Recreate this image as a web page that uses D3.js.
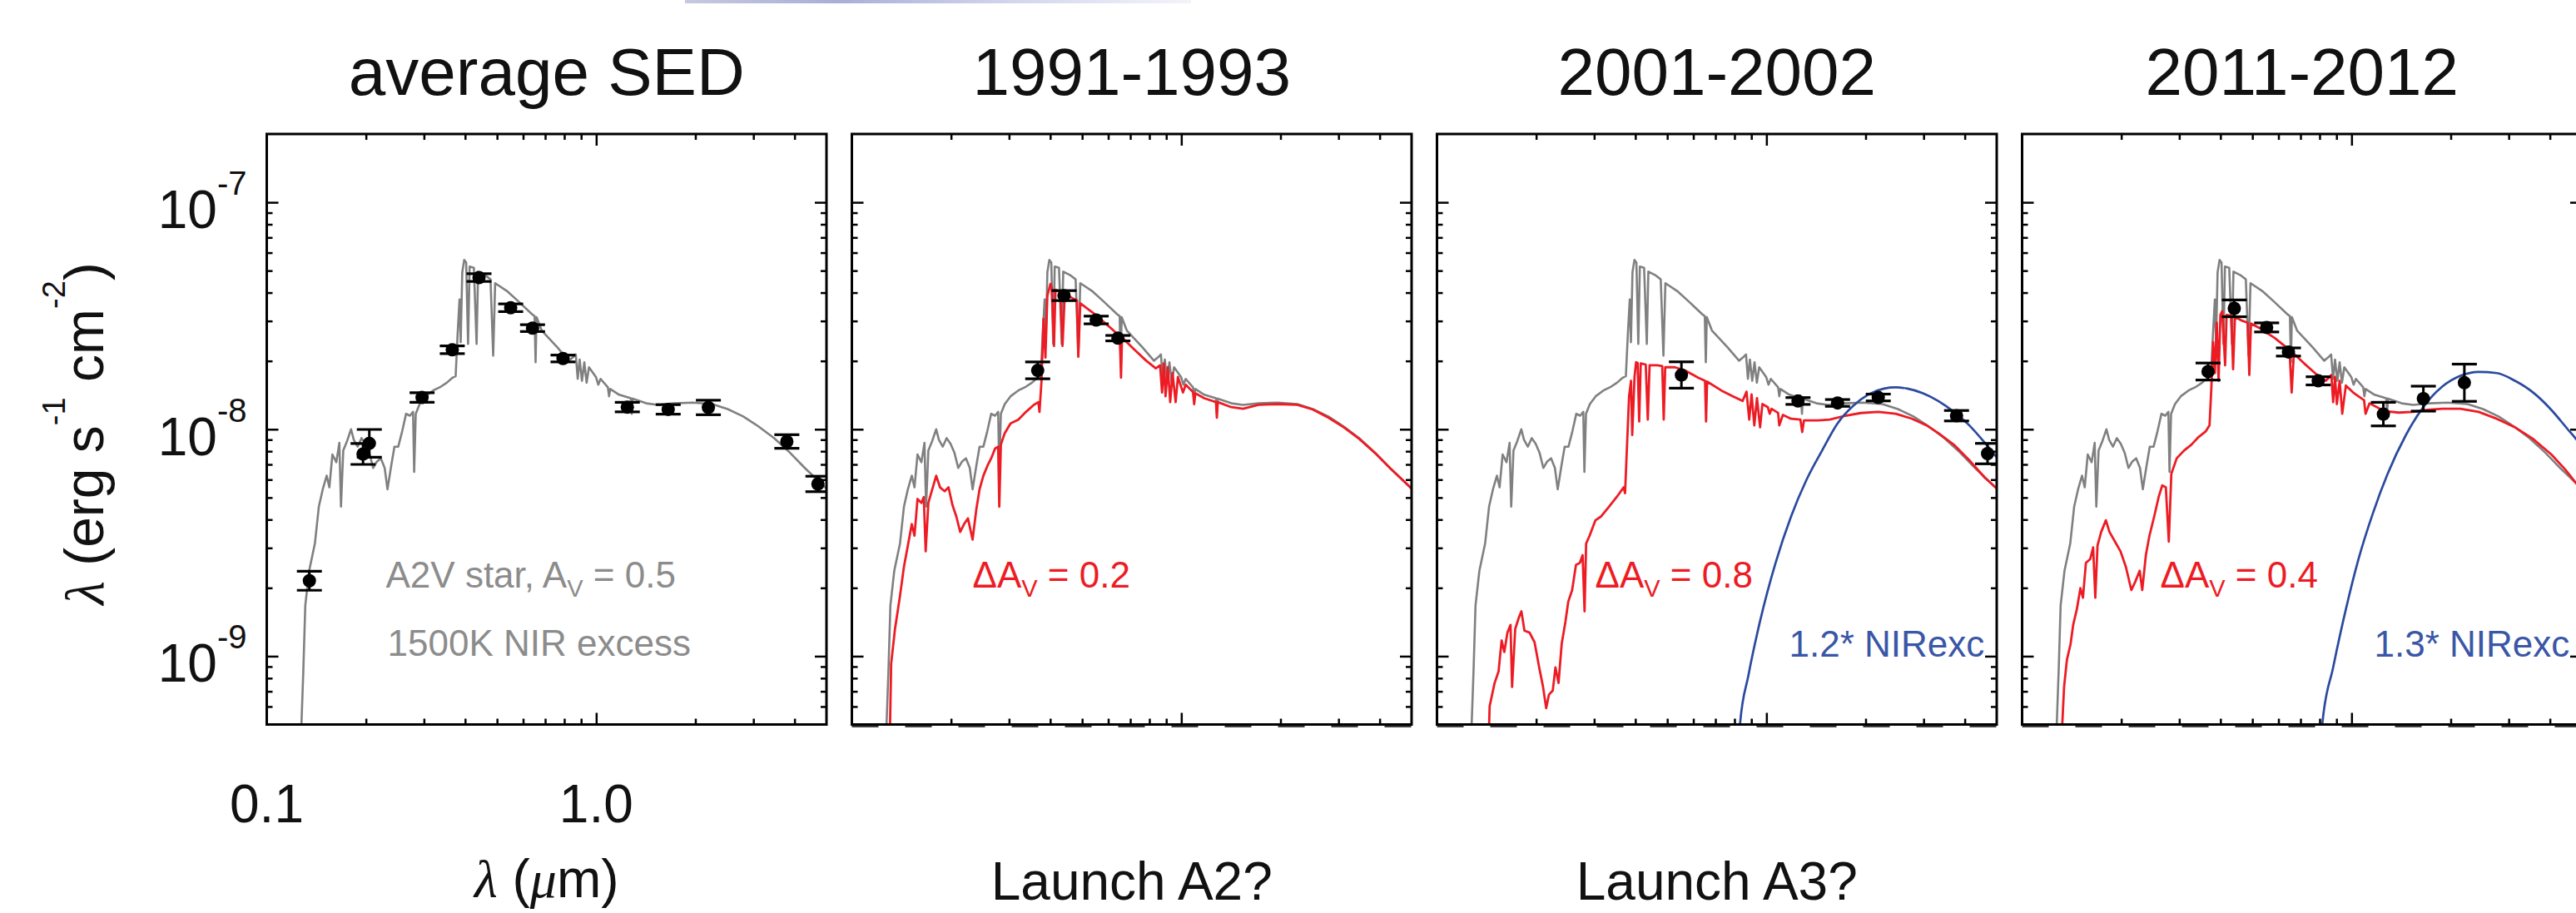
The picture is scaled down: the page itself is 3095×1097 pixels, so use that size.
<!DOCTYPE html>
<html>
<head>
<meta charset="utf-8">
<script src="https://cdn.jsdelivr.net/npm/d3@7"></script>
<style>
  html, body { margin: 0; padding: 0; background: #ffffff; }
  svg { display: block; }
  text { font-family: "Liberation Sans", Arial, Helvetica, sans-serif; }
</style>
</head>
<body>
<svg id="chart" width="3095" height="1097"></svg>
<script>
// ---------------------------------------------------------------
// Data: wavelengths in micron, fluxes (lambda F_lambda) in units
// of 1e-8 erg s^-1 cm^-2, photometric errors as +/- dex.
// ---------------------------------------------------------------
const FLUX_UNIT = 1e-8;

const panelTitles = ["average SED", "1991-1993", "2001-2002", "2011-2012"];
const panelFootnotes = ["", "Launch A2?", "Launch A3?", ""];

// A2V model (A_V = 0.5) plus 1500 K near-infrared excess
const modelWave = [0.1262, 0.1274, 0.1291, 0.1309, 0.1345, 0.1400, 0.1439, 0.1479, 0.1520, 0.1549,
  0.1582, 0.1626, 0.1661, 0.1680, 0.1707, 0.1754, 0.1803, 0.1837, 0.1887, 0.1939,
  0.1992, 0.2047, 0.2103, 0.2161, 0.2220, 0.2280, 0.2325, 0.2388, 0.2441, 0.2507,
  0.2577, 0.2648, 0.2720, 0.2780, 0.2802, 0.2833, 0.2911, 0.3032, 0.3200, 0.3378,
  0.3518, 0.3664, 0.3744, 0.3796, 0.3847, 0.3879, 0.3921, 0.3975, 0.4030, 0.4084,
  0.4128, 0.4253, 0.4334, 0.4381, 0.4613, 0.4777, 0.4868, 0.4935, 0.5355, 0.5806,
  0.6383, 0.6500, 0.6546, 0.6590, 0.6831, 0.7613, 0.8257, 0.8485, 0.8670, 0.8788,
  0.8908, 0.9054, 0.9203, 0.9352, 0.9506, 0.9980, 1.0144, 1.031, 1.085, 1.094,
  1.103, 1.174, 1.274, 1.282, 1.290, 1.419, 1.539, 1.716, 1.964, 2.249,
  2.506, 2.794, 3.112, 3.469, 3.867, 4.309, 5.028];
const modelFlux = [0.030, 0.0498, 0.0857, 0.1672, 0.238, 0.3136, 0.4557, 0.5436, 0.6239, 0.5546,
  0.7745, 0.7158, 0.871, 0.456, 0.8057, 0.889, 1.0, 0.899, 0.838, 0.9136,
  0.8647, 0.790, 0.675, 0.7215, 0.7447, 0.675, 0.5436, 0.6939, 0.838, 0.838,
  0.9806, 1.170, 1.147, 1.193, 0.649, 1.170, 1.291, 1.397, 1.4817, 1.541,
  1.603, 1.687, 1.714, 2.62, 3.73, 2.42, 4.913, 5.571, 5.42, 2.375,
  5.212, 5.15, 2.375, 4.952, 4.761, 4.577, 2.11, 4.401, 4.069, 3.659,
  3.214, 3.15, 1.973, 3.12, 2.725, 2.301, 2.005, 2.07, 2.136, 1.667,
  2.029, 1.635, 1.973, 1.603, 1.876, 1.70, 1.572, 1.667, 1.53, 1.397,
  1.505, 1.419, 1.370, 1.17, 1.365, 1.301, 1.281, 1.301, 1.311, 1.291,
  1.227, 1.139, 1.028, 0.9136, 0.790, 0.6724, 0.5436];

// Extra-extinction models
const redWave2 = [0.1298, 0.1316, 0.1352, 0.1400, 0.1439, 0.1479, 0.1520, 0.1549, 0.1582, 0.1626,
  0.1653, 0.1675, 0.1707, 0.1754, 0.1803, 0.1852, 0.1913, 0.1965, 0.2019, 0.2075,
  0.2132, 0.2190, 0.2251, 0.2325, 0.2388, 0.2441, 0.2507, 0.2577, 0.2648, 0.2720,
  0.2780, 0.2802, 0.2833, 0.2911, 0.3032, 0.3200, 0.3378, 0.3566, 0.3683, 0.3711,
  0.3764, 0.3816, 0.3868, 0.3921, 0.4008, 0.4041, 0.4107, 0.4150, 0.4288, 0.4359,
  0.4429, 0.4676, 0.4822, 0.4868, 0.4935, 0.5498, 0.6131, 0.6506, 0.6561, 0.6607,
  0.7211, 0.7823, 0.8370, 0.8620, 0.8740, 0.8848, 0.8956, 0.9103, 0.9252, 0.9404,
  0.9610, 0.9767, 1.0117, 1.031, 1.085, 1.094, 1.103, 1.174, 1.274, 1.282,
  1.290, 1.419, 1.539, 1.716, 1.964, 2.249, 2.506, 2.794, 3.112, 3.469,
  3.867, 4.309, 5.028];
const redFlux2 = [0.030, 0.0927, 0.1321, 0.1845, 0.2477, 0.3075, 0.3818, 0.3393, 0.4929, 0.4738,
  0.5027, 0.290, 0.4738, 0.5436, 0.6239, 0.5546, 0.533, 0.5546, 0.4646, 0.4129,
  0.3528, 0.3818, 0.4048, 0.3263, 0.4467, 0.5436, 0.6239, 0.6886, 0.7447, 0.8216,
  0.838, 0.4557, 0.8546, 0.9614, 1.061, 1.103, 1.193, 1.281, 1.317, 1.193,
  1.635, 3.065, 2.07, 3.881, 4.366, 4.199, 2.328, 4.117, 4.036, 2.328,
  3.958, 3.776, 3.703, 2.086, 3.587, 3.189, 2.779, 2.569, 1.687, 2.539,
  2.239, 2.005, 1.854, 1.913, 1.452, 1.951, 1.397, 1.876, 1.317, 1.768,
  1.317, 1.70, 1.452, 1.572, 1.46, 1.291, 1.44, 1.370, 1.317, 1.125,
  1.317, 1.251, 1.231, 1.281, 1.291, 1.281, 1.222, 1.125, 1.02, 0.906,
  0.787, 0.6724, 0.5436];

const redWave3 = [0.1425, 0.1445, 0.1496, 0.1538, 0.1571, 0.1601, 0.1636, 0.1672, 0.1690, 0.1728,
  0.1774, 0.1804, 0.1843, 0.1910, 0.1978, 0.2043, 0.2099, 0.2145, 0.2187, 0.2246,
  0.2289, 0.2339, 0.2390, 0.2456, 0.2503, 0.2572, 0.2642, 0.2715, 0.2767, 0.2805,
  0.2836, 0.2905, 0.3027, 0.3150, 0.3327, 0.3511, 0.3686, 0.3723, 0.3777, 0.3829,
  0.3882, 0.3914, 0.3978, 0.4021, 0.4065, 0.4109, 0.4154, 0.4302, 0.4364, 0.4419,
  0.4667, 0.4827, 0.4878, 0.4929, 0.5272, 0.5718, 0.6202, 0.6511, 0.6557, 0.6606,
  0.7296, 0.7913, 0.8468, 0.8700, 0.8867, 0.9013, 0.9187, 0.9361, 0.9566, 0.9723,
  1.0097, 1.023, 1.036, 1.085, 1.094, 1.122, 1.188, 1.268, 1.284, 1.300,
  1.436, 1.557, 1.735, 1.934, 2.185, 2.468, 2.751, 3.065, 3.325, 3.706,
  4.129, 4.602, 5.032];
const redFlux3 = [0.030, 0.0602, 0.0762, 0.0857, 0.1173, 0.1043, 0.1270, 0.1373, 0.0732, 0.1321,
  0.1486, 0.1576, 0.1295, 0.1270, 0.1151, 0.0892, 0.0732, 0.059, 0.0677, 0.0705,
  0.0892, 0.0762, 0.1129, 0.1429, 0.1739, 0.1956, 0.2527, 0.2577, 0.2788, 0.1576,
  0.3136, 0.3393, 0.3971, 0.4129, 0.4557, 0.5027, 0.5546, 0.5228, 0.871, 1.397,
  1.635, 0.9427, 1.70, 1.973, 1.96, 1.082, 1.951, 1.928, 1.103, 1.913,
  1.913, 1.898, 1.103, 1.876, 1.876, 1.803, 1.687, 1.635, 1.082, 1.622,
  1.4817, 1.397, 1.332, 1.464, 1.103, 1.424, 1.040, 1.370, 1.02, 1.291,
  1.251, 1.170, 1.231, 1.18, 1.04, 1.157, 1.112, 1.103, 0.9729, 1.094,
  1.094, 1.103, 1.147, 1.179, 1.193, 1.17, 1.116, 1.04, 0.9614, 0.8546,
  0.730, 0.6117, 0.5436];

const redWave4 = [0.1315, 0.1324, 0.1341, 0.1368, 0.1403, 0.1429, 0.1466, 0.1503, 0.1530, 0.1562,
  0.1610, 0.1643, 0.1668, 0.1694, 0.1738, 0.1796, 0.1842, 0.1914, 0.1989, 0.2065,
  0.2146, 0.2202, 0.2275, 0.2316, 0.2375, 0.2435, 0.2518, 0.2597, 0.2663, 0.2731,
  0.2788, 0.2838, 0.2947, 0.3101, 0.3263, 0.3434, 0.3613, 0.3706, 0.3753, 0.3801,
  0.3849, 0.3898, 0.3948, 0.3999, 0.4050, 0.4133, 0.4175, 0.4316, 0.4370, 0.4427,
  0.4657, 0.4838, 0.4894, 0.4951, 0.5290, 0.5857, 0.6481, 0.6580, 0.6681, 0.7177,
  0.7745, 0.8357, 0.8682, 0.8794, 0.8908, 0.9023, 0.9204, 0.9370, 0.9610, 1.011,
  1.0914, 1.103, 1.134, 1.255, 1.3897, 1.538, 1.702, 1.885, 2.140, 2.430,
  2.760, 3.134, 3.557, 4.040, 4.464, 4.810, 5.030];
const redFlux4 = [0.030, 0.0498, 0.0732, 0.0965, 0.1129, 0.1373, 0.1608, 0.1995, 0.1809, 0.2577,
  0.268, 0.3015, 0.1809, 0.3075, 0.3528, 0.3971, 0.3528, 0.3198, 0.290, 0.2477,
  0.1956, 0.2117, 0.238, 0.1956, 0.2788, 0.3393, 0.4129, 0.5027, 0.5655, 0.5546,
  0.3198, 0.6362, 0.7447, 0.8057, 0.8546, 0.9244, 0.9806, 1.040, 1.511, 2.42,
  1.768, 2.947, 1.635, 3.189, 3.317, 1.913, 3.189, 3.164, 1.839, 3.126,
  3.006, 2.947, 1.734, 2.924, 2.779, 2.518, 2.239, 1.452, 2.152, 1.951,
  1.768, 1.635, 1.734, 1.317, 1.70, 1.291, 1.635, 1.17, 1.559, 1.452,
  1.343, 1.17, 1.301, 1.203, 1.184, 1.193, 1.217, 1.231, 1.231, 1.193,
  1.112, 1.02, 0.906, 0.7745, 0.6618, 0.5767, 0.540];

// Scaled 1500 K near-infrared excess
const nirWave3 = [0.822, 0.831, 0.8819, 0.9566, 1.066, 1.188, 1.324, 1.4755, 1.644, 1.832,
  2.042, 2.276, 2.468, 2.677, 2.984, 3.325, 3.706, 4.129, 4.602, 5.032];
const nirFlux3 = [0.030, 0.0498, 0.0824, 0.1429, 0.2577, 0.4129, 0.5999, 0.8057, 1.061, 1.266,
  1.424, 1.511, 1.529, 1.511, 1.441, 1.332, 1.193, 1.040, 0.8714, 0.7447];
const nirWave4 = [0.807, 0.8147, 0.8793, 0.961, 1.05, 1.163, 1.287, 1.462, 1.66, 1.885,
  2.14, 2.43, 2.76, 3.134, 3.557, 4.04, 4.53, 4.80, 5.03];
const nirFlux4 = [0.030, 0.0498, 0.0892, 0.1608, 0.268, 0.4295, 0.6362, 0.9427, 1.266, 1.541,
  1.72, 1.789, 1.768, 1.635, 1.452, 1.217, 1.0, 0.906, 0.83];

// Photometry per epoch
const obsWave1 = [0.1347, 0.196, 0.2048, 0.2961, 0.3657, 0.4408, 0.550, 0.6408, 0.793, 1.243, 1.654, 2.19, 3.79, 4.71];
const obsFlux1 = [0.215, 0.778, 0.867, 1.38, 2.24, 4.66, 3.43, 2.79, 2.05, 1.252, 1.223, 1.247, 0.883, 0.574];
const obsErr1  = [0.042, 0.046, 0.061, 0.021, 0.017, 0.017, 0.017, 0.015, 0.015, 0.021, 0.021, 0.032, 0.030, 0.034];

const obsWave2 = [0.3665, 0.4406, 0.5516, 0.642];
const obsFlux2 = [1.817, 3.88, 3.03, 2.52];
const obsErr2  = [0.037, 0.022, 0.017, 0.012];

const obsWave3 = [0.552, 1.247, 1.644, 2.185, 3.776, 4.69];
const obsFlux3 = [1.734, 1.332, 1.306, 1.38, 1.147, 0.781];
const obsErr3  = [0.058, 0.015, 0.015, 0.015, 0.023, 0.045];

const obsWave4 = [0.3668, 0.4406, 0.5524, 0.6434, 0.7923, 1.249, 1.652, 2.2];
const obsFlux4 = [1.796, 3.41, 2.81, 2.19, 1.634, 1.166, 1.364, 1.603];
const obsErr4  = [0.0375, 0.037, 0.020, 0.018, 0.018, 0.052, 0.055, 0.082];

// Axis ticks and labels
const xDomain = [0.1, 5];
const yDomain = [5e-10, 2e-7];
const xMajorTicks = [1];
const xMinorTicks = [0.2, 0.3, 0.4, 0.5, 0.6, 0.7, 0.8, 0.9, 2, 3, 4];
const yMajorTicks = [1e-9, 1e-8, 1e-7];
const yMinorTicks = [6e-10, 7e-10, 8e-10, 9e-10,
  2e-9, 3e-9, 4e-9, 5e-9, 6e-9, 7e-9, 8e-9, 9e-9,
  2e-8, 3e-8, 4e-8, 5e-8, 6e-8, 7e-8, 8e-8, 9e-8];
const xLabelValues = [0.1, 1.0];
const xLabelTexts = ["0.1", "1.0"];
const yLabelValues = [1e-7, 1e-8, 1e-9];
const yLabelExponents = ["-7", "-8", "-9"];

// ---------------------------------------------------------------
// Layout and styling
// ---------------------------------------------------------------
const panelLeft0 = 320.5, panelStep = 703, panelW = 672.5;
const panelTop = 161, panelBottom = 870.5;
const COLORS = { model: "#808080", modelText: "#8c8c8c", red: "#ed1c24", blue: "#2b4a9e", blueText: "#3a56a6" };

const zip = (a, b) => a.map((v, i) => [v, b[i]]);

const panels = [
  { red: null, nir: null, obs: [obsWave1, obsFlux1, obsErr1],
    notes: [
      { x: 143, y: 706, color: COLORS.modelText, size: 44, parts: [{ t: "A2V star, A" }, { t: "V", sub: true }, { t: " = 0.5" }] },
      { x: 145, y: 788, color: COLORS.modelText, size: 44, parts: [{ t: "1500K NIR excess" }] }
    ] },
  { red: zip(redWave2, redFlux2), nir: null, obs: [obsWave2, obsFlux2, obsErr2],
    notes: [
      { x: 145, y: 706, color: COLORS.red, size: 44, parts: [{ t: "\u0394A" }, { t: "V", sub: true }, { t: " = 0.2" }] }
    ] },
  { red: zip(redWave3, redFlux3), nir: zip(nirWave3, nirFlux3), obs: [obsWave3, obsFlux3, obsErr3],
    notes: [
      { x: 190, y: 706, color: COLORS.red, size: 44, parts: [{ t: "\u0394A" }, { t: "V", sub: true }, { t: " = 0.8" }] },
      { x: 423, y: 789, color: COLORS.blueText, size: 44, parts: [{ t: "1.2* NIRexc" }] }
    ] },
  { red: zip(redWave4, redFlux4), nir: zip(nirWave4, nirFlux4), obs: [obsWave4, obsFlux4, obsErr4],
    notes: [
      { x: 166, y: 706, color: COLORS.red, size: 44, parts: [{ t: "\u0394A" }, { t: "V", sub: true }, { t: " = 0.4" }] },
      { x: 423, y: 789, color: COLORS.blueText, size: 44, parts: [{ t: "1.3* NIRexc" }] }
    ] }
];

const svg = d3.select("#chart");
const defs = svg.append("defs");

// faint strip along the top edge
const strip = defs.append("linearGradient").attr("id", "stripGrad");
strip.append("stop").attr("offset", "0%").attr("stop-color", "#c6c9de");
strip.append("stop").attr("offset", "30%").attr("stop-color", "#a9aed8");
strip.append("stop").attr("offset", "65%").attr("stop-color", "#d3d6ec");
strip.append("stop").attr("offset", "100%").attr("stop-color", "#f3f4fa");
svg.append("rect").attr("x", 823).attr("y", 0).attr("width", 608).attr("height", 4)
  .attr("fill", "url(#stripGrad)");

// rich text helper: parts with optional sub/superscript
function richText(sel, x, y, parts, opts) {
  const t = sel.append("text").attr("x", x).attr("y", y)
    .attr("font-size", opts.size).attr("fill", opts.color || "#000")
    .attr("text-anchor", opts.anchor || "start");
  if (opts.transform) t.attr("transform", opts.transform);
  let shift = 0;
  parts.forEach(p => {
    const s = t.append("tspan").text(p.t);
    let target = 0;
    if (p.sub) { s.attr("font-size", opts.size * 0.66); target = opts.size * 0.26; }
    if (p.sup) { s.attr("font-size", p.supSize || opts.size * 0.62); target = -(p.raise || opts.size * 0.6); }
    if (p.italic) s.attr("font-family", "'Liberation Serif', 'DejaVu Serif', serif").attr("font-style", "italic");
    if (target !== shift) { s.attr("dy", target - shift); shift = target; }
  });
  return t;
}

panels.forEach((p, i) => {
  const left = panelLeft0 + i * panelStep;
  const right = left + panelW;
  const x = d3.scaleLog().domain(xDomain).range([left, right]);
  const y = d3.scaleLog().domain(yDomain).range([panelBottom, panelTop]);
  const g = svg.append("g");

  defs.append("clipPath").attr("id", "clip" + i).append("rect")
    .attr("x", left).attr("y", panelTop).attr("width", panelW).attr("height", panelBottom - panelTop);

  const line = d3.line().x(d => x(d[0])).y(d => y(d[1] * FLUX_UNIT));
  const curves = g.append("g").attr("clip-path", `url(#clip${i})`);

  // dashed level running along the lower frame of the epoch panels
  if (i > 0) {
    g.append("line").attr("x1", left).attr("x2", right)
      .attr("y1", panelBottom + 1).attr("y2", panelBottom + 1)
      .attr("stroke", "#3c3c3c").attr("stroke-width", 5).attr("stroke-dasharray", "32,32");
  }

  curves.append("path").datum(zip(modelWave, modelFlux)).attr("d", line)
    .attr("fill", "none").attr("stroke", COLORS.model).attr("stroke-width", 2.6).attr("stroke-linejoin", "round");
  if (p.red) curves.append("path").datum(p.red).attr("d", line)
    .attr("fill", "none").attr("stroke", COLORS.red).attr("stroke-width", 2.8).attr("stroke-linejoin", "round");
  if (p.nir) curves.append("path").datum(p.nir).attr("d", line.curve(d3.curveMonotoneX))
    .attr("fill", "none").attr("stroke", COLORS.blue).attr("stroke-width", 2.7);

  // photometry with error bars
  const [ow, of, oe] = p.obs;
  const obs = ow.map((w, k) => ({ w, f: of[k] * FLUX_UNIT, e: oe[k] }));
  const pts = g.append("g").attr("clip-path", `url(#clip${i})`);
  obs.forEach(d => {
    const cx = x(d.w);
    const yLo = y(d.f * Math.pow(10, -d.e)), yHi = y(d.f * Math.pow(10, d.e));
    pts.append("line").attr("x1", cx).attr("x2", cx).attr("y1", yLo).attr("y2", yHi)
      .attr("stroke", "#000").attr("stroke-width", 3);
    [yLo, yHi].forEach(yy => pts.append("line").attr("x1", cx - 15).attr("x2", cx + 15)
      .attr("y1", yy).attr("y2", yy).attr("stroke", "#000").attr("stroke-width", 3.2));
    pts.append("circle").attr("cx", cx).attr("cy", y(d.f)).attr("r", 8).attr("fill", "#000");
  });

  // annotations
  p.notes.forEach(n => richText(g, left + n.x, n.y, n.parts, { size: n.size, color: n.color }));

  // frame and inward ticks
  const axes = g.append("g");
  const addAxis = (axisFn, tr, vals, len) => {
    const a = axes.append("g").attr("transform", tr)
      .call(axisFn.tickValues(vals).tickSizeInner(-len).tickSizeOuter(0).tickFormat(""));
    a.select(".domain").remove();
    a.selectAll("line").attr("stroke", "#000").attr("stroke-width", 2.5);
  };
  addAxis(d3.axisLeft(y), `translate(${left},0)`, yMajorTicks, 14);
  addAxis(d3.axisLeft(y), `translate(${left},0)`, yMinorTicks, 7);
  addAxis(d3.axisRight(y), `translate(${right},0)`, yMajorTicks, 14);
  addAxis(d3.axisRight(y), `translate(${right},0)`, yMinorTicks, 7);
  addAxis(d3.axisBottom(x), `translate(0,${panelBottom})`, xMajorTicks, 14);
  addAxis(d3.axisBottom(x), `translate(0,${panelBottom})`, xMinorTicks, 7);
  addAxis(d3.axisTop(x), `translate(0,${panelTop})`, xMajorTicks, 14);
  addAxis(d3.axisTop(x), `translate(0,${panelTop})`, xMinorTicks, 7);
  axes.append("rect").attr("x", left).attr("y", panelTop).attr("width", panelW)
    .attr("height", panelBottom - panelTop).attr("fill", "none")
    .attr("stroke", "#000").attr("stroke-width", 3);

  // title and footnote
  svg.append("text").attr("x", (left + right) / 2).attr("y", 114)
    .attr("text-anchor", "middle").attr("font-size", 80).attr("fill", "#111").text(panelTitles[i]);
  if (panelFootnotes[i]) svg.append("text").attr("x", (left + right) / 2).attr("y", 1081)
    .attr("text-anchor", "middle").attr("font-size", 64).attr("fill", "#111").text(panelFootnotes[i]);

  // tick labels and axis titles on the first panel only
  if (i === 0) {
    yLabelValues.forEach((v, k) => richText(svg, left - 24, y(v) + 31,
      [{ t: "10" }, { t: yLabelExponents[k], sup: true, supSize: 40, raise: 40 }],
      { size: 64, anchor: "end", color: "#111" }));
    xLabelValues.forEach((v, k) => svg.append("text").attr("x", x(v)).attr("y", 988)
      .attr("text-anchor", "middle").attr("font-size", 64).attr("fill", "#111").text(xLabelTexts[k]));
    richText(svg, (left + right) / 2, 1078,
      [{ t: "\u03bb", italic: true }, { t: " (" }, { t: "\u03bc", italic: true }, { t: "m)" }],
      { size: 64, anchor: "middle", color: "#111" });
    richText(svg, 0, 0,
      [{ t: "\u03bb", italic: true }, { t: " (erg s" }, { t: "-1", sup: true, supSize: 38, raise: 46 },
       { t: " cm" }, { t: "-2", sup: true, supSize: 38, raise: 46 }, { t: ")" }],
      { size: 66, anchor: "middle", color: "#111", transform: "translate(124,521) rotate(-90)" });
  }
});
</script>
</body>
</html>
